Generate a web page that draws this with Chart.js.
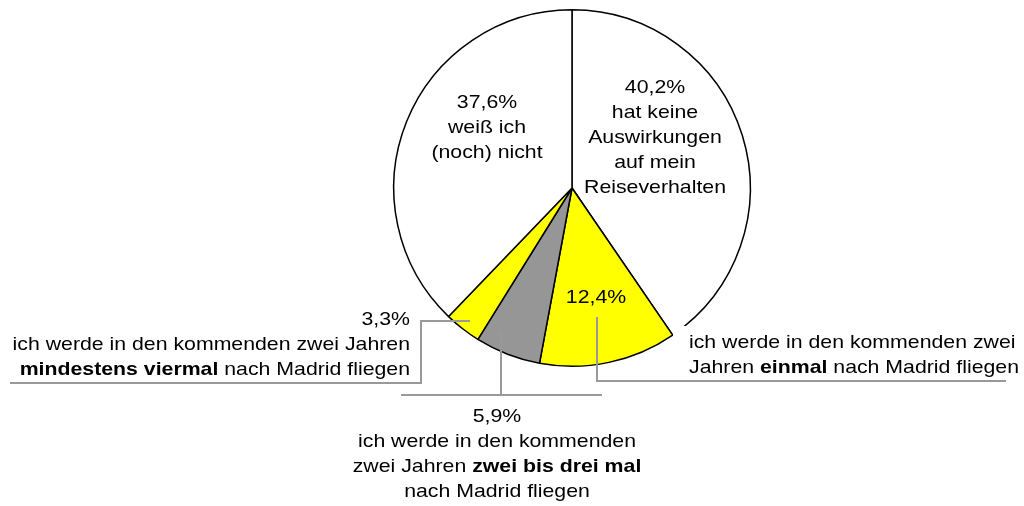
<!DOCTYPE html>
<html>
<head>
<meta charset="utf-8">
<script src="https://cdn.jsdelivr.net/npm/chart.js@4.4.0/dist/chart.umd.min.js"></script>
<style>
  html, body { margin: 0; padding: 0; background: #fff; }
  canvas { display: block; }
</style>
</head>
<body>
<canvas id="pieChart" width="1024" height="506"></canvas>
<script>
// Daten
const categories = [
    'hat keine Auswirkungen auf mein Reiseverhalten',
    'einmal nach Madrid fliegen',
    'zwei bis drei mal nach Madrid fliegen',
    'mindestens viermal nach Madrid fliegen',
    'weiß ich (noch) nicht'
];
const shares = [40.2, 12.4, 5.9, 3.3, 37.6];
const shareLabels = ['40,2%', '12,4%', '5,9%', '3,3%', '37,6%'];
const sliceColors = ['#ffffff', '#ffff00', '#969696', '#ffff00', '#ffffff'];

// Beschriftungen (**fett**)
const labelTexts = [
    ['hat keine', 'Auswirkungen', 'auf mein', 'Reiseverhalten'],
    ['ich werde in den kommenden zwei', 'Jahren **einmal** nach Madrid fliegen'],
    ['ich werde in den kommenden', 'zwei Jahren **zwei bis drei mal**', 'nach Madrid fliegen'],
    ['ich werde in den kommenden zwei Jahren', '**mindestens viermal** nach Madrid fliegen'],
    ['weiß ich', '(noch) nicht']
];

const FONT = '"Liberation Sans", Arial, sans-serif';
const FONT_SIZE = 19;
const STRETCH = 1.12;
const LINE_H = 25;

function drawRichLine(ctx, text, x, y, align) {
    const parts = text.split('**').map((t, i) => ({ t: t, b: i % 2 === 1 })).filter(p => p.t.length);
    let total = 0;
    parts.forEach(p => {
        ctx.font = (p.b ? 'bold ' : '') + FONT_SIZE + 'px ' + FONT;
        p.w = ctx.measureText(p.t).width * STRETCH;
        total += p.w;
    });
    let sx = x;
    if (align === 'center') sx = x - total / 2;
    if (align === 'right') sx = x - total;
    parts.forEach(p => {
        ctx.save();
        ctx.font = (p.b ? 'bold ' : '') + FONT_SIZE + 'px ' + FONT;
        ctx.textAlign = 'left';
        ctx.textBaseline = 'alphabetic';
        ctx.fillStyle = '#000';
        ctx.translate(sx, y);
        ctx.scale(STRETCH, 1);
        ctx.fillText(p.t, 0, 0);
        ctx.restore();
        sx += p.w;
    });
}

const labelPlugin = {
    id: 'pieLabels',
    afterDraw(chart) {
        const ctx = chart.ctx;
        const arc = chart.getDatasetMeta(0).data[0];
        const cx = arc.x, cy = arc.y;

        // weißer Hintergrund des rechten Textfelds (überdeckt den Kreisrand etwas)
        ctx.save();
        ctx.fillStyle = '#ffffff';
        ctx.fillRect(cx + 101, cy + 138, 340, 52);
        ctx.restore();

        // Führungslinien
        const leaders = [
            [[25, 129], [25, 193], [434, 193]],
            [[-71, 144], [-71, 207]],
            [[-171, 207], [30, 207]],
            [[-102, 133], [-151, 133], [-151, 195], [-562, 195]]
        ];
        ctx.save();
        ctx.strokeStyle = '#999999';
        ctx.lineWidth = 2;
        leaders.forEach(pts => {
            ctx.beginPath();
            pts.forEach((p, i) => {
                if (i === 0) ctx.moveTo(cx + p[0], cy + p[1]);
                else ctx.lineTo(cx + p[0], cy + p[1]);
            });
            ctx.stroke();
        });
        ctx.restore();

        // Textblöcke
        const blocks = [
            { x: 83, y: -95, align: 'center', lines: [shareLabels[0]].concat(labelTexts[0]) },
            { x: 24, y: 115, align: 'center', lines: [shareLabels[1]] },
            { x: 117, y: 160, align: 'left', lines: labelTexts[1] },
            { x: -75, y: 234, align: 'center', lines: [shareLabels[2]].concat(labelTexts[2]) },
            { x: -162, y: 137, align: 'right', lines: [shareLabels[3]].concat(labelTexts[3]) },
            { x: -85, y: -80, align: 'center', lines: [shareLabels[4]].concat(labelTexts[4]) }
        ];
        blocks.forEach(b => {
            b.lines.forEach((line, i) => {
                drawRichLine(ctx, line, cx + b.x, cy + b.y + i * LINE_H, b.align);
            });
        });
    }
};

new Chart(document.getElementById('pieChart').getContext('2d'), {
    type: 'pie',
    data: {
        labels: categories,
        datasets: [{
            data: shares,
            backgroundColor: sliceColors,
            borderColor: '#000000',
            borderWidth: 1.5
        }]
    },
    options: {
        responsive: false,
        animation: false,
        layout: { padding: { left: 393, right: 273, top: 9, bottom: 139 } },
        plugins: { legend: { display: false }, tooltip: { enabled: false } }
    },
    plugins: [labelPlugin]
});
</script>
</body>
</html>
